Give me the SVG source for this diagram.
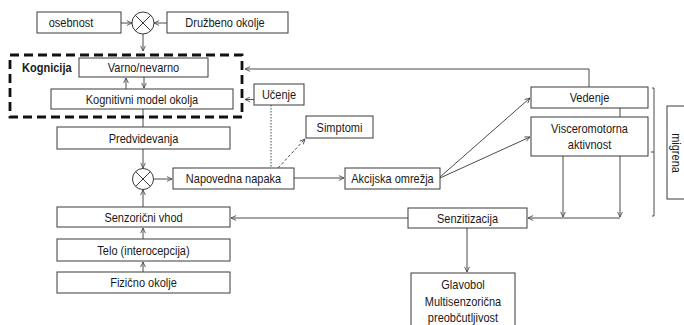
<svg xmlns="http://www.w3.org/2000/svg" width="684" height="325" viewBox="0 0 684 325">
<style>
.b{fill:#fff;stroke:#3a3a3a;stroke-width:1}
.t{font-family:"Liberation Sans",Arial,sans-serif;font-size:12.8px;fill:#1a1a1a;text-anchor:middle}
.c{fill:none;stroke:#4a4a4a;stroke-width:1}
.ar{marker-end:url(#a)}
</style>
<defs>
<marker id="a" viewBox="0 0 10 10" refX="9.5" refY="5" markerWidth="6" markerHeight="6" markerUnits="userSpaceOnUse" orient="auto">
<path d="M1,1 L9.5,5 L1,9" fill="none" stroke="#444" stroke-width="1.4"/>
</marker>
</defs>
<rect width="684" height="325" fill="#fff"/>

<g id="connectors">
<path class="c ar" d="M121,23 H132"/>
<path class="c ar" d="M167,23 H154"/>
<path class="c ar" d="M143,34 V51"/>
<path class="c ar" d="M144,77 V88"/>
<path class="c ar" d="M126,89 V78"/>
<path class="c" d="M143,109 V127"/>
<path class="c ar" d="M143,149 V168"/>
<path class="c ar" d="M143,207 V190"/>
<path class="c ar" d="M154,179 H172"/>
<path class="c ar" d="M294,178 H344"/>
<path class="c ar" d="M254,99.5 H245"/>
<path class="c" d="M271,105 V168" stroke="#888" stroke-dasharray="1.5,1.5"/>
<path class="c ar" d="M278,168 L305,139" stroke-dasharray="3,2"/>
<path class="c ar" d="M440,177 L530,98"/>
<path class="c ar" d="M440,178 L530,137"/>
<path class="c ar" d="M589,87 V69 H245" stroke="#222"/>
<path class="c ar" d="M620,108 V117 M620,156 V217"/>
<path class="c ar" d="M563,156 V217"/>
<path class="c ar" d="M620,218 H528"/>
<path class="c ar" d="M408,218 H231"/>
<path class="c ar" d="M467,228 V272"/>
<path class="c ar" d="M143,272 V262"/>
<path class="c ar" d="M143,239 V228"/>
<path class="c" d="M652,88 H654 V216 H652 M654,152 H651"/>
</g>

<g id="kognicija">
<rect x="10" y="55" width="232" height="62" fill="none" stroke="#111" stroke-width="2.8" stroke-dasharray="9,5"/>
<text x="22" y="72" font-family="Liberation Sans,sans-serif" font-size="12" font-weight="bold" fill="#1a1a1a" transform="translate(22,0) scale(.92,1) translate(-22,0)">Kognicija</text>
</g>

<g id="osebnost"><rect class="b" x="37" y="12" width="84" height="21"/><text class="t" transform="translate(71,27) scale(.86,1)">osebnost</text></g>
<g id="sum1"><circle cx="143" cy="23" r="11" fill="#fff" stroke="#3a3a3a"/><path d="M135.2,15.2 L150.8,30.8 M150.8,15.2 L135.2,30.8" stroke="#3a3a3a" fill="none"/></g>
<g id="druzbeno"><rect class="b" x="167" y="12" width="121" height="21"/><text class="t" transform="translate(225,27) scale(.86,1)">Družbeno okolje</text></g>
<g id="varno"><rect class="b" x="79" y="58" width="129" height="19"/><text class="t" transform="translate(143.5,72) scale(.86,1)">Varno/nevarno</text></g>
<g id="kognitivni"><rect class="b" x="51" y="89" width="182" height="20"/><text class="t" transform="translate(142,104) scale(.86,1)">Kognitivni model okolja</text></g>
<g id="ucenje"><rect class="b" x="254" y="84" width="50" height="21"/><text class="t" transform="translate(279,99) scale(.86,1)">Učenje</text></g>
<g id="predvidevanja"><rect class="b" x="57" y="127" width="173" height="22"/><text class="t" transform="translate(143.5,142.5) scale(.86,1)">Predvidevanja</text></g>
<g id="simptomi"><rect class="b" x="306" y="116" width="67" height="22"/><text class="t" transform="translate(339.5,131.5) scale(.86,1)">Simptomi</text></g>
<g id="sum2"><circle cx="143" cy="179" r="10.5" fill="#fff" stroke="#3a3a3a"/><path d="M135.6,171.6 L150.4,186.4 M150.4,171.6 L135.6,186.4" stroke="#3a3a3a" fill="none"/></g>
<g id="napaka"><rect class="b" x="173" y="168" width="121" height="21"/><text class="t" transform="translate(233.5,183) scale(.86,1)">Napovedna napaka</text></g>
<g id="akcijska"><rect class="b" x="345" y="168" width="95" height="21"/><text class="t" transform="translate(392.5,183) scale(.86,1)">Akcijska omrežja</text></g>
<g id="vedenje"><rect class="b" x="531" y="87" width="117" height="21"/><text class="t" transform="translate(589.5,102) scale(.86,1)">Vedenje</text></g>
<g id="visceromotorna"><rect class="b" x="531" y="117" width="117" height="39"/><text class="t" transform="translate(589.5,133) scale(.86,1)">Visceromotorna</text><text class="t" transform="translate(589.5,149) scale(.86,1)">aktivnost</text></g>
<g id="senzitizacija"><rect class="b" x="408" y="208" width="119" height="20"/><text class="t" transform="translate(467.5,222.5) scale(.86,1)">Senzitizacija</text></g>
<g id="senzoricni"><rect class="b" x="57" y="207" width="173" height="20"/><text class="t" transform="translate(143.5,221.5) scale(.86,1)">Senzorični vhod</text></g>
<g id="telo"><rect class="b" x="57" y="239" width="173" height="22"/><text class="t" transform="translate(143.5,254.5) scale(.86,1)">Telo (interocepcija)</text></g>
<g id="fizicno"><rect class="b" x="57" y="272" width="173" height="21"/><text class="t" transform="translate(143.5,287) scale(.86,1)">Fizično okolje</text></g>
<g id="glavobol"><rect class="b" x="411" y="273" width="104" height="60"/><text class="t" transform="translate(463,289) scale(.86,1)">Glavobol</text><text class="t" transform="translate(463,306) scale(.86,1)">Multisenzorična</text><text class="t" transform="translate(463,322) scale(.86,1)">preobčutljivost</text></g>
<g id="migrena"><rect class="b" x="667" y="106" width="30" height="93"/><text class="t" transform="translate(672,153) rotate(90) scale(.86,1)">migrena</text></g>
</svg>
